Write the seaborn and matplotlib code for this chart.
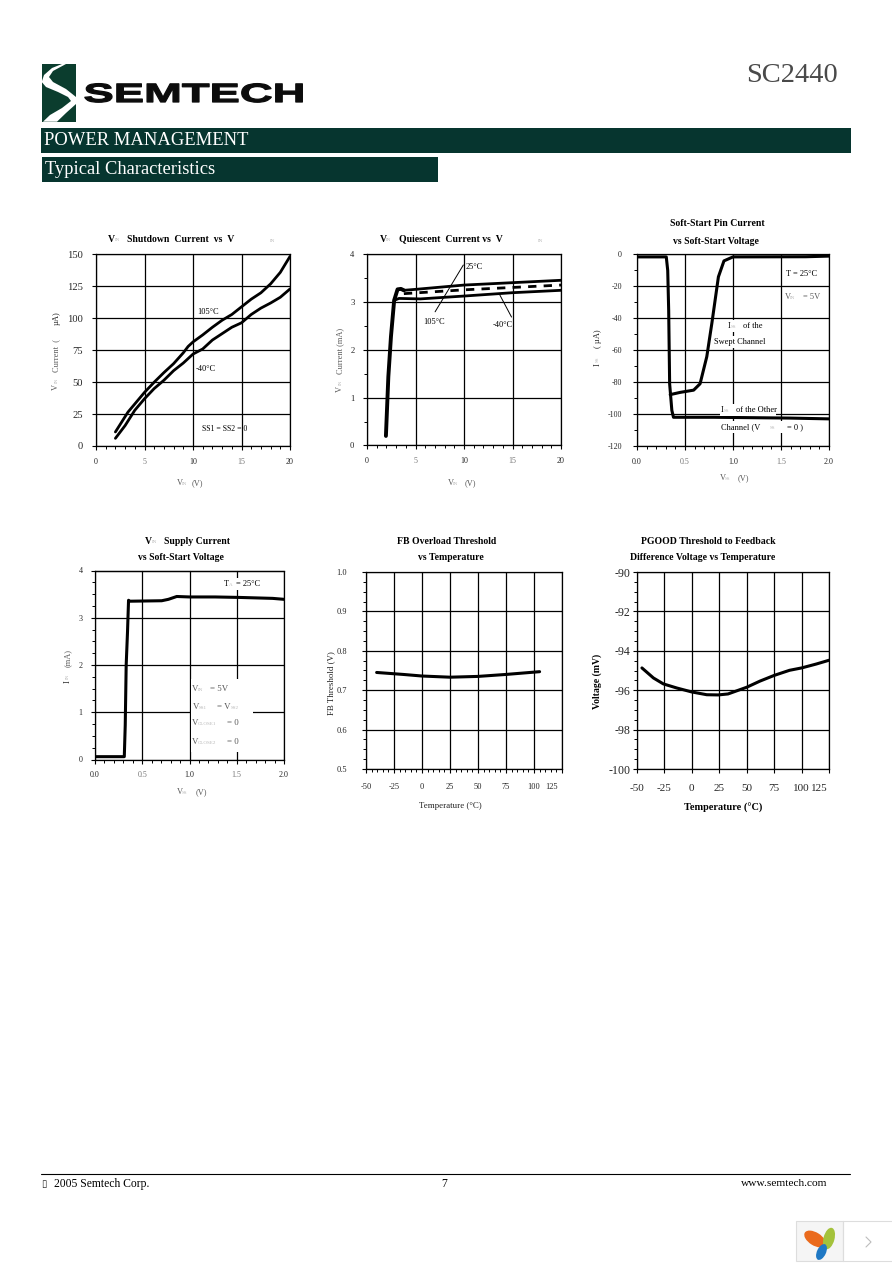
import matplotlib
matplotlib.use("Agg")
import matplotlib.pyplot as plt
import matplotlib.patheffects as pe
from matplotlib.patches import Rectangle, Polygon, Ellipse
from matplotlib.transforms import Affine2D, ScaledTranslation
from matplotlib.ticker import MultipleLocator
import numpy as np
import seaborn as sns

# ---- data ----
c1_x = [2, 3.3, 5, 6, 7, 8, 9, 9.5, 10, 11, 12, 13, 14, 15, 16, 17, 18, 19, 20]
c1_hot = [11, 26.6, 42, 50, 57.5, 64.5, 73, 78, 81.5, 87, 93, 98.5, 103, 109, 115, 120, 127, 136, 148.5]
c1_cold_x = [2, 3, 4, 5, 6, 7, 8, 9, 10, 11, 12, 13, 14, 15, 16, 17, 18, 19, 20]
c1_cold = [6, 16, 28, 37, 45, 51.5, 59, 65, 72, 76, 83, 88, 93, 96.5, 103, 108, 112, 116.5, 123]

c2_rise_x = [1.95, 2.2, 2.47, 2.8, 3.15, 3.5, 3.8]
c2_rise_y = [0.2, 1.44, 2.28, 3.04, 3.27, 3.28, 3.25]
c2_top_x = [3.8, 5, 10, 15, 20]
c2_top_y = [3.25, 3.27, 3.36, 3.41, 3.46]
c2_mid_x = [3.8, 10, 20]
c2_mid_y = [3.18, 3.26, 3.36]
c2_low_x = [2.8, 3.3, 5.5, 10, 15, 20]
c2_low_y = [3.04, 3.08, 3.07, 3.13, 3.2, 3.25]

c3_other_x = [0, 0.305, 0.32, 0.33, 0.34, 0.363, 0.38, 0.8, 1.59, 2.0]
c3_other_y = [-1.5, -1.5, -10, -35, -81, -97.7, -102, -102, -102.5, -103]
c3_swept_x = [0.346, 0.45, 0.59, 0.657, 0.727, 0.78, 0.848, 0.906, 1.0, 1.76, 2.0]
c3_swept_y = [-87.8, -86.4, -85, -81, -64, -43, -14, -4, -1.5, -1.4, -1]

c4_x = [0, 0.31, 0.32, 0.33, 0.344, 0.355, 0.37, 0.706, 0.777, 0.865, 1.0, 1.27, 1.53, 1.88, 2.0]
c4_y = [0.06, 0.06, 0.73, 2, 2.7, 3.37, 3.35, 3.36, 3.39, 3.45, 3.44, 3.44, 3.43, 3.41, 3.39]

c5_x = [-40.5, -16.7, 0, 25, 50, 75, 105]
c5_y = [0.745, 0.74, 0.736, 0.733, 0.735, 0.74, 0.747]

c6_x = [-45.5, -35, -26, -13.6, 0, 13.6, 24, 33, 50, 62, 75, 89, 100, 113.5, 125]
c6_y = [-94.87, -95.38, -95.68, -95.89, -96.09, -96.23, -96.24, -96.19, -95.85, -95.54, -95.25, -94.99, -94.87, -94.67, -94.48]

temp_ticks = [-50, -25, 0, 25, 50, 75, 100, 125]

# ---- page ----
W, H = 892, 1263
sns.set_theme(style="white")
plt.rcParams["font.family"] = ["Liberation Serif", "DejaVu Sans"]
plt.rcParams["axes.unicode_minus"] = False
fig = plt.figure(figsize=(W / 100, H / 100), dpi=100, facecolor="white")

DARK = "#06352f"
GREY = "#5a5a5a"
FAINT = "#b8b8b8"


def make_ax(x0, y0, x1, y1, xlim, ylim, xmin, ymin, xt, yt, xs, ys, xpad, ypad):
    ax = fig.add_axes([x0 / W, 1 - y1 / H, (x1 - x0) / W, (y1 - y0) / H])
    ax.set_facecolor("white")
    ax.set_xticks(np.linspace(xlim[0], xlim[1], len(xt)))
    ax.set_yticks(np.linspace(ylim[0], ylim[1], len(yt)))
    ax.set_xticklabels(xt)
    ax.set_yticklabels(yt)
    ax.set_xlim(*xlim)
    ax.set_ylim(*ylim)
    if xmin:
        ax.xaxis.set_minor_locator(MultipleLocator(xmin))
    if ymin:
        ax.yaxis.set_minor_locator(MultipleLocator(ymin))
    ax.grid(True, which="major", color="black", lw=0.9)
    ax.set_axisbelow(True)
    for s in ax.spines.values():
        s.set_visible(True)
        s.set_color("black")
        s.set_linewidth(0.9)
    ax.tick_params(which="major", direction="out", length=3, width=0.8, color="black",
                   bottom=True, left=True)
    ax.tick_params(which="minor", direction="out", length=2, width=0.7, color="black",
                   bottom=True, left=bool(ymin))
    ax.tick_params(axis="x", which="major", labelsize=xs, pad=xpad)
    ax.tick_params(axis="y", which="major", labelsize=ys, pad=ypad)
    return ax


def draw(ax, x, y, lw=2.2, ls="-"):
    sns.lineplot(x=x, y=y, ax=ax, color="black", linewidth=lw, linestyle=ls,
                 estimator=None, sort=False, legend=False)
    ax.set_xlabel("")
    ax.set_ylabel("")


# chart 1
a1 = make_ax(96, 254.5, 290, 446, (0, 20), (0, 150), 1, None,
             ["0", "5", "10", "15", "20"], ["0", "25", "50", "75", "100", "125", "150"], 5.8, 7.6, 5.5, 6.5)
draw(a1, c1_x, c1_hot, 2.0)
draw(a1, c1_cold_x, c1_cold, 2.0)

# chart 2
a2 = make_ax(367, 254.5, 561, 445.5, (0, 20), (0, 4), 1, 0.5,
             ["0", "5", "10", "15", "20"], ["0", "1", "2", "3", "4"], 5.8, 6.2, 5.5, 6)
draw(a2, c2_rise_x, c2_rise_y, 2.8)
draw(a2, c2_top_x, c2_top_y, 2.0)
draw(a2, c2_mid_x, c2_mid_y, 2.0, (0, (3.0, 2.6)))
draw(a2, c2_low_x, c2_low_y, 2.0)
a2.plot([7.02, 9.93], [2.8, 3.78], color="black", lw=0.7)
a2.plot([13.7, 14.9], [3.15, 2.69], color="black", lw=0.7)

# chart 3
a3 = make_ax(637, 254.5, 829, 446, (0, 2), (-120, 0), 0.1, 10,
             ["0.0", "0.5", "1.0", "1.5", "2.0"], ["-120", "-100", "-80", "-60", "-40", "-20", "0"], 5.8, 5.8, 5.5, 8)
draw(a3, c3_other_x, c3_other_y)
draw(a3, c3_swept_x, c3_swept_y)

# chart 4
a4 = make_ax(95, 570.5, 284, 759.5, (0, 2), (0, 4), 0.1, 0.25,
             ["0.0", "0.5", "1.0", "1.5", "2.0"], ["0", "1", "2", "3", "4"], 5.8, 5.8, 5.5, 6)
draw(a4, c4_x, c4_y)

# chart 5
a5 = make_ax(366, 572, 562, 769, (-50, 125), (0.5, 1.0), 5, 0.025,
             [str(t) for t in temp_ticks], ["0.5", "0.6", "0.7", "0.8", "0.9", "1.0"], 6, 6, 7, 10.8)
draw(a5, c5_x, c5_y)

# chart 6
a6 = make_ax(637, 572, 829, 769, (-50, 125), (-100, -90), None, 0.5,
             [str(t) for t in temp_ticks], ["-100", "-98", "-96", "-94", "-92", "-90"], 8, 8.6, 7.5, 1.5)
draw(a6, c6_x, c6_y)

# tick label tidying
for ax in (a1, a2, a3, a4):
    for lab in ax.get_xticklabels():
        if lab.get_text().endswith("5"):
            lab.set_color("#777777")
for ax in (a5, a6):
    lab = ax.get_xticklabels()[-1]
    lab.set_transform(lab.get_transform() + ScaledTranslation(-0.1, 0, fig.dpi_scale_trans))

# ---- overlay in page pixels ----
pg = fig.add_axes([0, 0, 1, 1], zorder=10)
pg.set_xlim(0, W)
pg.set_ylim(H, 0)
pg.axis("off")
pg.patch.set_alpha(0)


def T(x, y, s, size=6.5, color="black", weight="normal", ha="left", **kw):
    return pg.text(x, y, s, fontsize=size, color=color, fontweight=weight, ha=ha, va="center", **kw)


def R(x, y, s, size=6, color=GREY, weight="normal"):
    return pg.text(x, y, s, fontsize=size, color=color, fontweight=weight, rotation=90, ha="center", va="center")


def box(x0, y0, x1, y1, fc="white", z=1):
    pg.add_patch(Rectangle((x0, y0), x1 - x0, y1 - y0, fc=fc, ec="none", zorder=z))


# header
box(41, 128, 851, 152.7, DARK)
box(42, 157, 438, 181.7, DARK)
T(44, 140.5, "POWER MANAGEMENT", 13.4, "white", zorder=3)
T(45, 169.5, "Typical Characteristics", 13.3, "white", zorder=3)
T(746, 76, "SC2440", 20.5, "#4a4a4a")

# logo
box(41.7, 64, 76, 121.7, "#0b3d2e")
pg.add_patch(Polygon([(62, 64), (52, 68), (44, 75), (41.7, 82), (46, 87), (58, 92), (68, 97), (71, 101),
                      (62, 108), (50, 115), (43, 121.7), (57, 121.7), (66, 113), (76, 104), (76, 97),
                      (66, 89), (53, 82), (49, 77), (53, 71), (66, 64)],
                     closed=True, fc="white", ec="none", zorder=2))


class Stretch(pe.AbstractPathEffect):
    def __init__(self, x0, sx):
        super().__init__()
        self.x0, self.sx = x0, sx

    def draw_path(self, renderer, gc, tpath, affine, rgbFace=None):
        m = affine + Affine2D().translate(-self.x0, 0).scale(self.sx, 1).translate(self.x0, 0)
        g = renderer.new_gc()
        g.copy_properties(gc)
        g.set_linewidth(0.9)
        g.set_foreground(rgbFace)
        renderer.draw_path(g, tpath, m, rgbFace)
        g.restore()


logo = pg.text(83.5, 102, "SEMTECH", fontsize=19, fontweight="bold", family="Liberation Sans",
               color="#0c0c0c", ha="left", va="baseline")
logo.set_path_effects([Stretch(83.5, 1.72)])

# chart 1 texts
B = 7
T(108, 239, "V", B, weight="bold")
T(115, 240, "IN", 3.6, FAINT)
T(127, 239, "Shutdown  Current  vs  V", B, weight="bold")
T(270, 241, "IN", 3.6, FAINT)
R(56, 387, "V")
R(57, 380, "IN", 3.6, FAINT)
R(56, 356, "Current  (")
R(57, 318, "\u00b5A)", 6, "#222222")
T(177, 483, "V", 6, GREY)
T(182, 484, "IN", 3.6, FAINT)
T(192, 483, "(V)", 6, GREY)
T(197, 312, "105\u00b0C", 6)
T(196, 369, "-40\u00b0C", 6)
T(202, 429, "SS1 = SS2 = 0", 5.6)

# chart 2 texts
T(380, 239, "V", B, weight="bold")
T(386, 240, "IN", 3.6, FAINT)
T(399, 239, "Quiescent  Current vs  V", B, weight="bold")
T(538, 241, "IN", 3.6, FAINT)
R(340, 389, "V")
R(341, 382, "IN", 3.6, FAINT)
R(340, 351, "Current (mA)")
T(448, 483, "V", 6, GREY)
T(453, 484, "IN", 3.6, FAINT)
T(465, 483, "(V)", 6, GREY)
T(466, 267, "25\u00b0C", 6)
T(423, 322, "105\u00b0C", 6)
T(493, 325, "-40\u00b0C", 6)

# chart 3 texts
T(717, 223, "Soft-Start Pin Current", B, weight="bold", ha="center")
T(715.5, 241, "vs Soft-Start Voltage", B, weight="bold", ha="center")
R(598, 365, "I", 6, "#222222")
R(598, 359, "SS", 3.6, FAINT)
R(598, 339, "( \u00b5A)", 6, "#222222")
T(720, 478, "V", 6, GREY)
T(725, 479, "SS", 3.6, FAINT)
T(738, 478, "(V)", 6, GREY)
for (x0, y0, x1, y1) in [(784, 268, 816, 280), (784, 291, 818, 303), (727, 320, 763, 332), (713, 336, 766, 348),
                         (720, 404, 776, 416), (720, 421, 803, 433)]:
    box(x0, y0, x1, y1)
T(786, 274, "T = 25\u00b0C", 6, zorder=3)
T(785, 297, "V", 6, GREY, zorder=3)
T(790, 298, "IN", 3.6, FAINT, zorder=3)
T(803, 297, "= 5V", 6, GREY, zorder=3)
T(728, 326, "I", 6, zorder=3)
T(731, 327, "SS", 3.6, FAINT, zorder=3)
T(743, 326, "of the", 6, zorder=3)
T(714, 342, "Swept Channel", 6, zorder=3)
T(721, 410, "I", 6, zorder=3)
T(724, 411, "SS", 3.6, FAINT, zorder=3)
T(736, 410, "of the Other", 6, zorder=3)
T(721, 427, "Channel (V", 6, zorder=3)
T(770, 428, "SS", 3.6, FAINT, zorder=3)
T(787, 427, "= 0 )", 6, zorder=3)

# chart 4 texts
T(145, 541, "V", B, weight="bold")
T(152, 542, "IN", 3.6, FAINT)
T(164, 541, "Supply Current", B, weight="bold")
T(181, 558, "vs Soft-Start Voltage", B, weight="bold", ha="center")
R(68, 682, "I", 6, "#222222")
R(68, 676, "IN", 3.6, FAINT)
R(68, 658, "(mA)")
T(177, 792, "V", 6, GREY)
T(182, 793, "SS", 3.6, FAINT)
T(196, 792, "(V)", 6, GREY)
box(222, 578, 260, 590)
T(224, 584, "T", 6, zorder=3)
T(229, 585, "A", 3.6, FAINT, zorder=3)
T(236, 584, "= 25\u00b0C", 6, zorder=3)
box(191, 679, 253, 752)
T(192, 689, "V", 6.4, GREY, zorder=3)
T(198, 690, "IN", 3.6, FAINT, zorder=3)
T(210, 689, "= 5V", 6.4, GREY, zorder=3)
T(193, 707, "V", 6.4, GREY, zorder=3)
T(199, 708, "SS1", 3.6, FAINT, zorder=3)
T(217, 707, "= V", 6.4, GREY, zorder=3)
T(231, 708, "SS2", 3.6, FAINT, zorder=3)
T(192, 723, "V", 6.4, GREY, zorder=3)
T(198, 724, "CLOSE1", 3.6, FAINT, zorder=3)
T(227, 723, "= 0", 6.4, GREY, zorder=3)
T(192, 742, "V", 6.4, GREY, zorder=3)
T(198, 743, "CLOSE2", 3.6, FAINT, zorder=3)
T(227, 742, "= 0", 6.4, GREY, zorder=3)

# chart 5 texts
T(447, 541, "FB Overload Threshold", B, weight="bold", ha="center")
T(450.5, 558, "vs Temperature", B, weight="bold", ha="center")
R(331, 683, "FB Threshold (V)", 6.4, "#222222")
T(450, 806, "Temperature (\u00b0C)", 6.4, "#222222", ha="center")

# chart 6 texts
T(708.5, 541, "PGOOD Threshold to Feedback", B, weight="bold", ha="center")
T(702.5, 558, "Difference Voltage vs Temperature", B, weight="bold", ha="center")
R(597, 681, "Voltage (mV)", 7, "black", "bold")
T(723, 808, "Temperature (\u00b0C)", 7.4, weight="bold", ha="center")

# footer
pg.plot([41, 850], [1173.5, 1173.5], color="black", lw=0.8)
pg.text(44, 1184, "\u25af", fontsize=7, family="DejaVu Sans", ha="center", va="center")
T(54, 1184, "2005 Semtech Corp.", 8.4)
T(444.5, 1184, "7", 8.4, ha="center")
T(827, 1184, "www.semtech.com", 8.2, ha="right")

# corner widget
box(796, 1221, 842.5, 1261, "#f5f5f5")
pg.add_patch(Rectangle((796, 1221), 46.5, 40, fc="none", ec="#dddddd", lw=0.8, zorder=2))
pg.add_patch(Rectangle((842.5, 1221), 50, 40, fc="none", ec="#dddddd", lw=0.8, zorder=2))
pg.add_patch(Ellipse((815, 1239), 24, 13, angle=32, fc="#ea6a1c", ec="none", zorder=3))
pg.add_patch(Ellipse((829, 1238.5), 22, 11, angle=-75, fc="#a4c23b", ec="none", zorder=3))
pg.add_patch(Ellipse((821.5, 1252), 17, 9, angle=-65, fc="#1f78c4", ec="none", zorder=3))
pg.plot([866, 871, 866], [1237, 1242, 1247], color="#bdbdbd", lw=0.8, zorder=3)
pg.set_xlim(0, W)
pg.set_ylim(H, 0)

fig.savefig("out.png", dpi=100, facecolor="white")
